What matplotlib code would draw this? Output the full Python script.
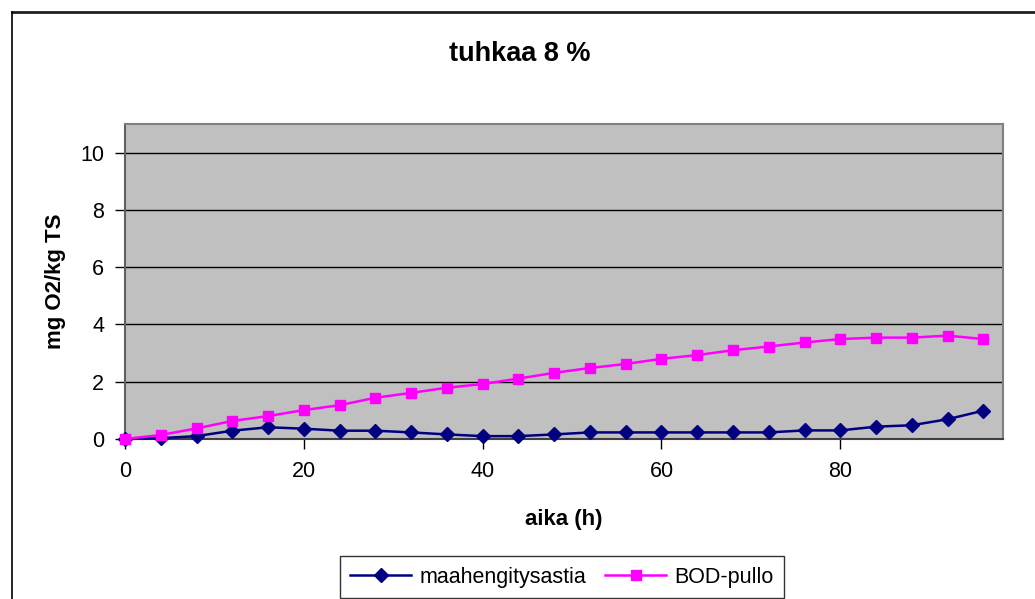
import numpy as np
import matplotlib
matplotlib.use('Agg')
from matplotlib import pyplot as plt
from matplotlib.lines import Line2D

plt.rcParams['font.family'] = ['Liberation Sans', 'DejaVu Sans']

# time (h)
aika = [0, 4, 8, 12, 16, 20, 24, 28, 32, 36, 40, 44, 48,
        52, 56, 60, 64, 68, 72, 76, 80, 84, 88, 92, 96]
maahengitysastia = [0.0, 0.03, 0.1, 0.29, 0.41, 0.36, 0.29, 0.29, 0.23, 0.16, 0.1, 0.1, 0.16,
                    0.23, 0.23, 0.23, 0.23, 0.23, 0.23, 0.3, 0.3, 0.43, 0.48, 0.69, 0.99]
bod_pullo = [0.0, 0.14, 0.37, 0.63, 0.8, 1.01, 1.18, 1.44, 1.61, 1.79, 1.92, 2.11, 2.31,
             2.48, 2.62, 2.8, 2.93, 3.1, 3.23, 3.37, 3.49, 3.54, 3.54, 3.61, 3.49]
y_ticks = [0, 2, 4, 6, 8, 10]
x_ticks = [0, 20, 40, 60, 80]

W, H = 1035, 599
fig = plt.figure(figsize=(W / 100, H / 100), dpi=100)
ax = fig.add_axes([125 / W, 1 - 439 / H, (1003 - 125) / W, (439 - 124) / H])
ax.set_facecolor('#C0C0C0')

ax.plot(aika, maahengitysastia, color='#000080', lw=1.8, marker='D', ms=7,
        markerfacecolor='#000080', markeredgecolor='#000080', clip_on=False, zorder=3)
ax.plot(aika, bod_pullo, color='#FF00FF', lw=1.8, marker='s', ms=7.5,
        markerfacecolor='#FF00FF', markeredgecolor='#FF00FF', clip_on=False, zorder=4)

ax.set_xlim(0, 98.2)
ax.set_ylim(0, 11)
ax.set_xticks(x_ticks)
ax.set_yticks(y_ticks)
ax.yaxis.grid(True, color='black', lw=1)
ax.set_axisbelow(True)
for s in ax.spines.values():
    s.set_color('#808080')
    s.set_linewidth(1.5)
ax.spines['left'].set_color('#606060')
ax.spines['bottom'].set_color('#404040')
ax.tick_params(direction='out', length=7, width=1, color='black', labelsize=15.5, pad=8)
ax.tick_params(axis='x', pad=9)

ax.set_xlabel('aika (h)', fontsize=16, fontweight='bold', labelpad=19)
ax.set_ylabel('mg O2/kg TS', fontsize=16, fontweight='bold', labelpad=10)
fig.text(520 / W, 1 - 54 / H, 'tuhkaa 8 %', fontsize=19.5, fontweight='bold',
         ha='center', va='center')

handles = [Line2D([], [], color='#000080', lw=1.8, marker='D', ms=7),
           Line2D([], [], color='#FF00FF', lw=1.8, marker='s', ms=7.5)]
leg = fig.legend(handles, ['maahengitysastia', 'BOD-pullo'], ncol=2,
                 loc='center', bbox_to_anchor=(562 / W, 1 - 577 / H),
                 fontsize=15.5, frameon=True, fancybox=False, handlelength=2.8,
                 columnspacing=0.9, handletextpad=0.4, borderpad=0.5,
                 borderaxespad=0)
leg.get_frame().set_edgecolor('black')
leg.get_frame().set_linewidth(1)

# outer chart border (top and left visible)
fig.add_artist(Line2D([12 / W, 1], [1 - 12 / H, 1 - 12 / H], color='#202020', lw=2))
fig.add_artist(Line2D([12 / W, 12 / W], [1 - 12 / H, 0], color='black', lw=1.2))

fig.savefig('out.png', dpi=100)
